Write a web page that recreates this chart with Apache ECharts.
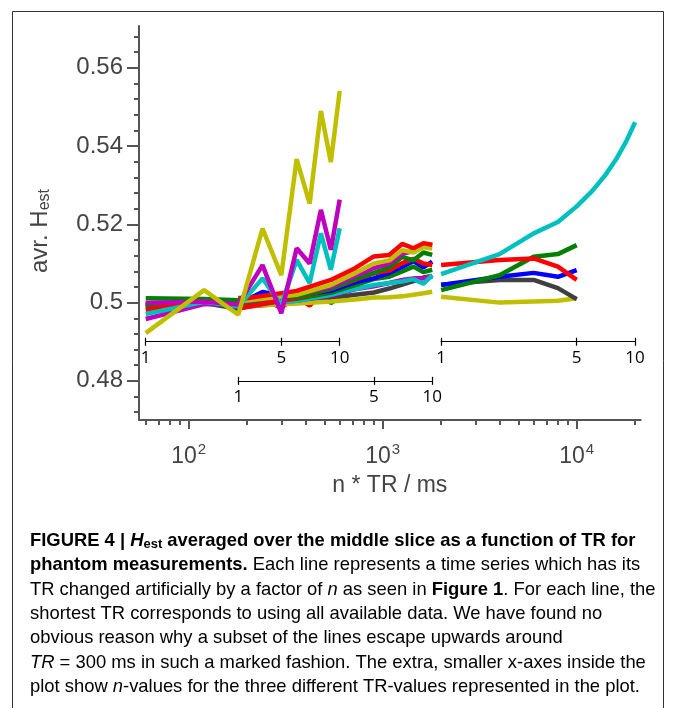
<!DOCTYPE html>
<html><head><meta charset="utf-8">
<script src="https://cdn.jsdelivr.net/npm/echarts@6/dist/echarts.min.js"></script>
<style>html,body{margin:0;padding:0;background:#fff}#c{width:673px;height:708px}</style>
</head><body><div id="c"></div><script>
// ---------- data ----------
const nA = [1,2,3,4,5,6,7,8,9,10];
const nB = [1,2,3,4,5,6,7,8,9,10];
const nC5 = [1,2,3,4,5];
const nC10 = [1,2,3,4,5,6,7,8,9,10];
const trA = 60, trB = 180, trC = 2000;      // base TR (ms) of the three groups
const nTickValues = [1,5,10];

// group A (TR = 60 ms)
const a_blue     = [0.4995,0.5003,0.4997,0.5027,0.5018,0.5024,0.5030,0.5028,0.5036,0.5042];
const a_green    = [0.5011,0.5009,0.5006,0.5012,0.5008,0.5018,0.5016,0.5024,0.4999,0.5014];
const a_red      = [0.4981,0.5008,0.5004,0.5009,0.4987,0.5016,0.4992,0.5022,0.5018,0.5032];
const a_black    = [0.4990,0.4999,0.4984,0.4999,0.5004,0.5007,0.5010,0.5012,0.5016,0.5021];
const a_green2   = [0.4994,0.5001,0.5000,0.5006,0.5003,0.5010,0.5012,0.5015,0.5010,0.5018];
const a_magenta2 = [0.4958,0.4996,0.4998,0.5004,0.5007,0.5011,0.5015,0.5019,0.5024,0.5028];
const a_cyan     = [0.4971,0.5002,0.4990,0.5062,0.4994,0.5109,0.5050,0.5177,0.5084,0.5190];
const a_magenta  = [0.4999,0.5003,0.4995,0.5096,0.4973,0.5139,0.5100,0.5237,0.5135,0.5263];
const a_yellow   = [0.4922,0.5032,0.4969,0.5189,0.5070,0.5367,0.5253,0.5490,0.5359,0.5541];

// group B (TR = 180 ms)
const b_red      = [0.5008,0.5030,0.5058,0.5088,0.5118,0.5122,0.5150,0.5139,0.5152,0.5148];
const b_yellow   = [0.5003,0.5020,0.5045,0.5075,0.5100,0.5108,0.5134,0.5128,0.5142,0.5138];
const b_magenta  = [0.5000,0.5022,0.5040,0.5068,0.5088,0.5100,0.5125,0.5132,0.5150,0.5146];
const b_green    = [0.5012,0.5015,0.5035,0.5060,0.5076,0.5090,0.5117,0.5108,0.5128,0.5122];
const b_blue     = [0.5005,0.5018,0.5030,0.5052,0.5062,0.5076,0.5092,0.5106,0.5090,0.5105];
const b_red2     = [0.4985,0.5012,0.5035,0.5058,0.5075,0.5082,0.5101,0.5112,0.5100,0.5096];
const b_green2   = [0.4998,0.5010,0.5025,0.5045,0.5060,0.5066,0.5080,0.5092,0.5078,0.5084];
const b_cyan     = [0.4992,0.5005,0.5020,0.5035,0.5045,0.5050,0.5054,0.5060,0.5048,0.5070];
const b_magenta2 = [0.4995,0.5005,0.5018,0.5034,0.5042,0.5050,0.5058,0.5062,0.5062,0.5066];
const b_black    = [0.4988,0.5000,0.5012,0.5020,0.5026,0.5036,0.5046,0.5055,0.5064,0.5068];
const b_yellow2  = [0.4990,0.4998,0.5003,0.5008,0.5013,0.5014,0.5016,0.5020,0.5024,0.5028];

// group C (TR = 2000 ms)
const c_yellow = [0.5015,0.5000,0.5003,0.5005,0.5011];
const c_black  = [0.5046,0.5058,0.5058,0.5037,0.5009];
const c_blue   = [0.5045,0.5066,0.5076,0.5066,0.5083];
const c_green  = [0.5032,0.5070,0.5117,0.5124,0.5147];
const c_red    = [0.5096,0.5109,0.5113,0.5092,0.5058];
const c_cyan   = [0.5073,0.5124,0.5177,0.5206,0.5246,0.5285,0.5325,0.5367,0.5412,0.5461];

// axis ticks
const yMajor = [0.48,0.50,0.52,0.54,0.56];
const yMinor = [0.472,0.476,0.484,0.488,0.492,0.496,0.504,0.508,0.512,0.516,0.524,0.528,0.532,0.536,0.544,0.548,0.552,0.556,0.564,0.568];
const xMajor = [100,1000,10000];
const xMinor = [60,70,80,90,200,300,400,500,600,700,800,900,2000,3000,4000,5000,6000,7000,8000,9000,20000];

// ---------- layout ----------
const COL = {b:'#0000ff', g:'#008000', r:'#ff0000', c:'#00bfbf', m:'#bf00bf', y:'#bfbf00', k:'#404040'};
const G = {left:139, top:26, right:32.3, bottom:288};
const W = 673, H = 708;
const XMIN = 55.4, XMAX = 21380, YMIN = 0.47, YMAX = 0.5707;
const gw = W - G.left - G.right, gh = H - G.top - G.bottom;
const px = v => G.left + (Math.log10(v)-Math.log10(XMIN))/(Math.log10(XMAX)-Math.log10(XMIN))*gw;
const py = v => G.top + (YMAX - v)/(YMAX - YMIN)*gh;

const AX = '#555', TXT = '#444';
const AF = 'Liberation Sans';

function mk(base, ns, vals, color, z){
  return {type:'line', xAxisIndex:0, yAxisIndex:0, showSymbol:false, symbol:'none',
    data: ns.map((n,i)=>[base*n, vals[i]]), lineStyle:{width:4.5, color:color}, itemStyle:{color:color},
    z: z||2, animation:false, silent:true};
}

const series = [
  mk(trA,nA,a_black,COL.k), mk(trA,nA,a_blue,COL.b), mk(trA,nA,a_green2,COL.g), mk(trA,nA,a_magenta2,COL.m),
  mk(trA,nA,a_red,COL.r), mk(trA,nA,a_green,COL.g),
  mk(trB,nB,b_black,COL.k), mk(trB,nB,b_yellow2,COL.y), mk(trB,nB,b_magenta2,COL.m), mk(trB,nB,b_cyan,COL.c),
  mk(trB,nB,b_green2,COL.g), mk(trB,nB,b_blue,COL.b), mk(trB,nB,b_red2,COL.r), mk(trB,nB,b_green,COL.g),
  mk(trB,nB,b_magenta,COL.m), mk(trB,nB,b_yellow,COL.y), mk(trB,nB,b_red,COL.r),
  mk(trA,nA,a_cyan,COL.c,3), mk(trA,nA,a_magenta,COL.m,3), mk(trA,nA,a_yellow,COL.y,3),
  mk(trC,nC5,c_yellow,COL.y), mk(trC,nC5,c_black,COL.k), mk(trC,nC5,c_blue,COL.b), mk(trC,nC5,c_green,COL.g),
  mk(trC,nC5,c_red,COL.r), mk(trC,nC10,c_cyan,COL.c)
];

// small n-axes
const nAxes = [ {tr:trA, y:0.49}, {tr:trB, y:0.48}, {tr:trC, y:0.49} ];
const grids = [ {left:G.left, top:G.top, right:G.right, bottom:G.bottom, containLabel:false} ];
const xAxes = [
  {type:'log', gridIndex:0, logBase:10, min:XMIN, max:XMAX, position:'bottom',
   axisLine:{show:true, onZero:false, lineStyle:{color:AX, width:2}},
   axisTick:{show:true, customValues:xMajor, length:9, lineStyle:{color:AX, width:2}},
   axisLabel:{show:true, customValues:xMajor, margin:22, color:TXT,
     formatter: v => '{b|10}{s|' + Math.round(Math.log10(v)) + '}',
     rich:{ b:{fontSize:23, fontFamily:AF, color:TXT},
            s:{fontSize:15, fontFamily:AF, color:TXT, padding:[0,0,15,1]} } },
   splitLine:{show:false}, minorTick:{show:false},
   name:'n * TR / ms', nameLocation:'middle', nameGap:54,
   nameTextStyle:{fontSize:23, color:TXT, fontFamily:AF} },
  {type:'log', gridIndex:0, logBase:10, min:XMIN, max:XMAX, position:'bottom',
   axisLine:{show:false}, axisLabel:{show:false}, splitLine:{show:false},
   axisTick:{show:true, customValues:xMinor, length:5, lineStyle:{color:AX, width:2}} }
];
const yAxes = [
  {type:'value', gridIndex:0, min:YMIN, max:YMAX, position:'left',
   axisLine:{show:true, onZero:false, lineStyle:{color:AX, width:2}},
   axisTick:{show:true, customValues:yMajor, length:12, lineStyle:{color:AX, width:2}},
   axisLabel:{show:true, customValues:yMajor, margin:16, fontSize:24, color:TXT, fontFamily:AF,
     formatter: v => String(+(+v).toFixed(2))},
   splitLine:{show:false},
   name:'avr. H{sub|est}', nameLocation:'middle', nameRotate:90, nameGap:86,
   nameTextStyle:{fontSize:24, color:TXT, fontFamily:AF, padding:[0,16,0,0],
     rich:{ sub:{fontSize:16, color:TXT, fontFamily:AF, padding:[10,0,0,0]} } } },
  {type:'value', gridIndex:0, min:YMIN, max:YMAX, position:'left',
   axisLine:{show:false}, axisLabel:{show:false}, splitLine:{show:false},
   axisTick:{show:true, customValues:yMinor, length:5, lineStyle:{color:AX, width:2}} }
];
nAxes.forEach((a,i)=>{
  const gi = i+1;
  const l = px(a.tr), r = px(a.tr*10);
  grids.push({left:l, width:r-l, top:py(a.y), height:0, containLabel:false});
  xAxes.push({type:'log', gridIndex:gi, logBase:10, min:1, max:10, position:'bottom',
    axisLine:{show:true, lineStyle:{color:'#000', width:1.2}},
    axisTick:{show:true, customValues:nTickValues, length:4, lineStyle:{color:'#000', width:1.2}},
    axisLabel:{show:true, customValues:nTickValues, margin:8, fontSize:17, color:'#000', fontFamily:'Open Sans',
      formatter: v => String(Math.round(v))},
    splitLine:{show:false}});
  xAxes.push({type:'log', gridIndex:gi, logBase:10, min:1, max:10, position:'top',
    axisLine:{show:false}, axisLabel:{show:false}, splitLine:{show:false},
    axisTick:{show:true, customValues:nTickValues, length:4, lineStyle:{color:'#000', width:1.2}}});
  yAxes.push({type:'value', gridIndex:gi, show:false, min:0, max:1});
});

// caption
const CF = 'Liberation Sans, Arial';
const FS = 18.4;
const capRich = {
  n:{fontSize:FS, fontFamily:CF, color:'#222'},
  b:{fontSize:FS, fontFamily:CF, color:'#222', fontWeight:'bold'},
  bi:{fontSize:FS, fontFamily:CF, color:'#222', fontWeight:'bold', fontStyle:'italic'},
  bs:{fontSize:13, fontFamily:CF, color:'#222', fontWeight:'bold', padding:[7,0,0,0]},
  i:{fontSize:FS, fontFamily:CF, color:'#222', fontStyle:'italic'}
};
const capLines = [
  '{b|FIGURE 4 | }{bi|H}{bs|est}{b| averaged over the middle slice as a function of TR for}',
  '{b|phantom measurements.}{n| Each line represents a time series which has its}',
  '{n|TR changed artificially by a factor of }{i|n}{n| as seen in }{b|Figure 1}{n|. For each line, the}',
  '{n|shortest TR corresponds to using all available data. We have found no}',
  '{n|obvious reason why a subset of the lines escape upwards around}',
  '{i|TR}{n| = 300 ms in such a marked fashion. The extra, smaller x-axes inside the}',
  '{n|plot show }{i|n}{n|-values for the three different TR-values represented in the plot.}'
];
const graphics = [
  {type:'rect', shape:{x:12.5, y:11.5, width:651, height:720}, style:{fill:'none', stroke:'#333', lineWidth:1}, silent:true}
];
capLines.forEach((t,i)=>{
  graphics.push({type:'text', x:30, y:541 + i*24.3, silent:true,
    style:{text:t, rich:capRich, verticalAlign:'middle', align:'left'}});
});

const chart = echarts.init(document.getElementById('c'), null, {renderer:'canvas'});
chart.setOption({
  animation:false, backgroundColor:'#fff',
  grid: grids, xAxis: xAxes, yAxis: yAxes, series: series, graphic: graphics
});
</script></body></html>
